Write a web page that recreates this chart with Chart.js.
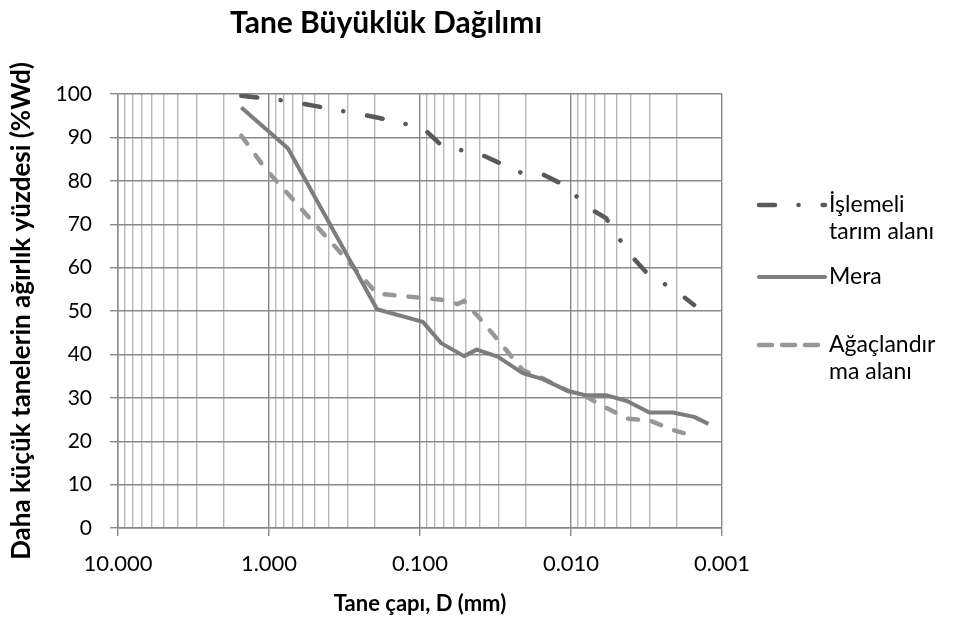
<!DOCTYPE html>
<html>
<head>
<meta charset="utf-8">
<script src="https://cdn.jsdelivr.net/npm/chart.js@4.4.0/dist/chart.umd.min.js"></script>
<style>
  html, body { margin: 0; padding: 0; background: #fff; }
  #wrap { width: 959px; height: 626px; }
</style>
</head>
<body>
<div id="wrap"><canvas id="chart" width="959" height="626"></canvas></div>
<script>
const FONT = 'Lato, "Open Sans", sans-serif';

// particle diameter (mm) and percent finer for each sample
const ISLEMELI_D = [1.525, 0.75, 0.1926, 0.0958, 0.0724, 0.0511, 0.0421, 0.0306, 0.0209, 0.0154, 0.01051, 0.00803, 0.00586, 0.00422, 0.00303, 0.00212, 0.00153];
const ISLEMELI_P = [99.6, 98.4, 94.6, 92.2, 88.2, 86.9, 86.5, 84.3, 81.7, 81.5, 78.6, 74.2, 71.4, 63.7, 58.1, 55.2, 51.4];

const MERA_D = [1.525, 0.75, 0.1926, 0.0958, 0.0724, 0.0511, 0.0421, 0.0306, 0.0209, 0.0154, 0.01051, 0.00803, 0.00586, 0.00422, 0.00303, 0.00212, 0.00153, 0.00123];
const MERA_P = [96.9, 87.5, 50.4, 47.5, 42.6, 39.6, 41.1, 39.5, 35.7, 34.3, 31.6, 30.6, 30.6, 29.2, 26.6, 26.6, 25.6, 24.0];

const AGAC_D = [1.525, 1.042, 0.75, 0.1926, 0.0958, 0.0724, 0.0565, 0.0511, 0.0421, 0.0306, 0.0209, 0.0154, 0.01051, 0.00803, 0.00586, 0.00422, 0.00303, 0.00212, 0.00153];
const AGAC_P = [90.4, 82.5, 77.0, 54.0, 53.0, 52.6, 51.6, 52.3, 49.1, 43.4, 36.4, 34.5, 31.6, 30.4, 27.7, 25.2, 24.8, 22.6, 21.2];

const SERIES_NAMES = ['İşlemeli tarım alanı', 'Mera', 'Ağaçlandırma alanı'];
const LEGEND_LINES = [['İşlemeli', 'tarım alanı'], ['Mera'], ['Ağaçlandır', 'ma alanı']];

// x axis: decades from 10 down to 0.001
const X_MIN = 0.001;
const X_MAX = 10;
const Y_MIN = 0;
const Y_MAX = 100;
const Y_STEP = 10;

function toPoints(d, p) {
  return d.map((v, i) => ({ x: v, y: p[i] }));
}

function isDecade(v) {
  const l = Math.log10(v);
  return Math.abs(l - Math.round(l)) < 1e-9;
}

// side legend with wrapped labels
const sideLegend = {
  id: 'sideLegend',
  afterDraw(chart) {
    const ctx = chart.ctx;
    const rows = [
      { y: 205, dash: [16, 23.5, 0.1, 24] },
      { y: 277, dash: [] },
      { y: 345, dash: [13, 10] },
    ];
    chart.data.datasets.forEach((ds, i) => {
      const row = rows[i];
      ctx.save();
      ctx.strokeStyle = ds.borderColor;
      ctx.lineWidth = ds.borderWidth;
      ctx.lineCap = 'round';
      ctx.setLineDash(row.dash);
      ctx.beginPath();
      ctx.moveTo(759, row.y);
      ctx.lineTo(825, row.y);
      ctx.stroke();
      ctx.setLineDash([]);
      ctx.fillStyle = '#000';
      ctx.font = '23px ' + FONT;
      ctx.textBaseline = 'middle';
      ctx.textAlign = 'left';
      LEGEND_LINES[i].forEach((t, k) => ctx.fillText(t, 829, row.y + k * 27));
      ctx.restore();
    });
  }
};

const chartTitle = {
  id: 'chartTitle',
  afterDraw(chart) {
    const ctx = chart.ctx;
    ctx.save();
    ctx.fillStyle = '#000';
    ctx.font = 'bold 30px ' + FONT;
    ctx.textAlign = 'center';
    ctx.textBaseline = 'alphabetic';
    ctx.fillText('Tane Büyüklük Dağılımı', 386, 33);
    ctx.restore();
  }
};

new Chart(document.getElementById('chart'), {
  type: 'line',
  data: {
    datasets: [
      {
        label: SERIES_NAMES[0],
        data: toPoints(ISLEMELI_D, ISLEMELI_P),
        borderColor: '#595959',
        borderWidth: 4.5,
        borderDash: [16, 23.5, 0.1, 24],
        borderCapStyle: 'round',
      },
      {
        label: SERIES_NAMES[1],
        data: toPoints(MERA_D, MERA_P),
        borderColor: '#7d7d7d',
        borderWidth: 4,
        borderJoinStyle: 'round',
      },
      {
        label: SERIES_NAMES[2],
        data: toPoints(AGAC_D, AGAC_P),
        borderColor: '#979797',
        borderWidth: 4.5,
        borderDash: [10, 14],
        borderCapStyle: 'round',
      },
    ],
  },
  options: {
    responsive: false,
    animation: false,
    elements: {
      point: { radius: 0, hoverRadius: 0 },
      line: { tension: 0, fill: false },
    },
    layout: { padding: { top: 94, right: 237, bottom: 0, left: 0 } },
    plugins: {
      legend: { display: false },
      title: { display: false },
      tooltip: { enabled: false },
    },
    scales: {
      x: {
        type: 'logarithmic',
        reverse: true,
        min: X_MIN,
        max: X_MAX,
        afterFit: (scale) => { scale.height = 98; },
        afterBuildTicks: (scale) => {
          const ticks = [];
          for (let e = -3; e <= 1; e++) {
            for (let m = 1; m <= 9; m++) {
              const v = m * Math.pow(10, e);
              if (v >= X_MIN * 0.999 && v <= X_MAX * 1.001) ticks.push({ value: v });
            }
          }
          scale.ticks = ticks;
        },
        ticks: {
          autoSkip: false,
          maxRotation: 0,
          padding: 15,
          color: '#000',
          font: { family: FONT, size: 22 },
          callback: (v) => (isDecade(v) ? Number(v).toFixed(3) : ''),
        },
        grid: {
          lineWidth: 1.4,
          tickLength: 8,
          color: (c) => (c.tick && isDecade(c.tick.value) ? '#878787' : '#b8b8b8'),
          tickColor: (c) => (c.tick && isDecade(c.tick.value) ? '#878787' : 'rgba(0,0,0,0)'),
        },
        border: { color: '#878787', width: 1.4 },
        title: {
          display: true,
          text: 'Tane çapı, D (mm)',
          color: '#000',
          font: { family: FONT, size: 22, weight: 'bold' },
          padding: { top: 0, bottom: 9 },
        },
      },
      y: {
        min: Y_MIN,
        max: Y_MAX,
        afterFit: (scale) => { scale.width = 118; },
        ticks: {
          stepSize: Y_STEP,
          padding: 18,
          color: '#000',
          font: { family: FONT, size: 21 },
        },
        grid: {
          lineWidth: 1.4,
          tickLength: 8,
          color: '#8a8a8a',
          tickColor: '#8a8a8a',
        },
        border: { color: '#878787', width: 1.4 },
        title: {
          display: true,
          text: 'Daha küçük tanelerin ağırlık yüzdesi (%Wd)',
          color: '#000',
          font: { family: FONT, size: 26, weight: 'bold' },
          padding: { top: 6, bottom: 0 },
        },
      },
    },
  },
  plugins: [chartTitle, sideLegend],
});
</script>
</body>
</html>
